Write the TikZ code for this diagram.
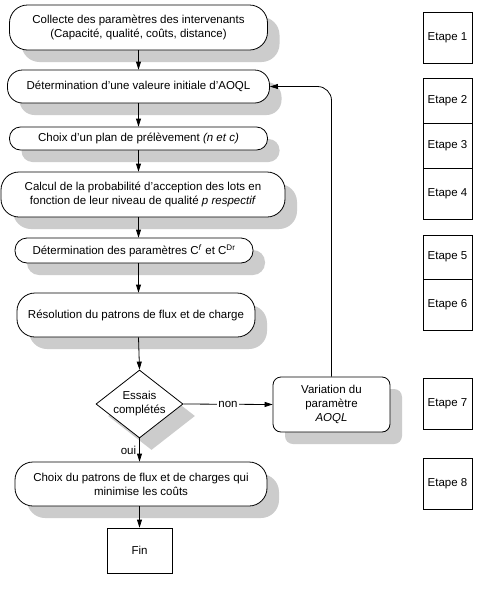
\documentclass[tikz,border=0pt]{standalone}
\usepackage{fontspec}
\setmainfont{Liberation Sans}
\usetikzlibrary{shapes.geometric,shadows,arrows.meta}
\begin{document}
\begin{tikzpicture}[x=1pt,y=-1pt,
  every node/.style={font=\fontsize{11.5}{14}\selectfont},
  shd/.style={drop shadow={shadow xshift=12pt,shadow yshift=-12pt,fill=black!20,opacity=1}},
  proc/.style={draw,line width=0.8pt,rectangle,align=center,inner sep=0pt,fill=white,shd},
  dec/.style={draw,diamond,line width=0.8pt,fill=white,shd,inner sep=0pt,minimum width=87pt,minimum height=68pt},
  etap/.style={draw,line width=0.7pt,minimum width=49pt,inner sep=0pt},
  arr/.style={line width=0.8pt,-{Triangle[length=8pt,width=5pt]}}
]
\fill[white] (0,0) rectangle (484,595);
\useasboundingbox (0,0) rectangle (484,595);
\coordinate (colx) at (138.5,0);

\node[proc,rounded corners=18pt,minimum width=258pt,minimum height=45pt] (b1) at (138.5,27.5) {Collecte des paramètres des intervenants\\(Capacité, qualité, coûts, distance)};
\node[proc,rounded corners=15pt,minimum width=262pt,minimum height=33pt] (b2) at (138.5,86.5) {Détermination d'une valeure initiale d'AOQL};
\node[proc,rounded corners=11pt,minimum width=258pt,minimum height=23pt] (b3) at (138.5,138.5) {Choix d'un plan de prélèvement \textit{(n et c)}};
\node[proc,rounded corners=18pt,minimum width=284pt,minimum height=45pt] (b4) at (143,194.5) {Calcul de la probabilité d'acception des lots en\\fonction de leur niveau de qualité \textit{p respectif}};
\node[proc,rounded corners=12pt,minimum width=238pt,minimum height=25pt] (b5) at (134,250.5) {Détermination des paramètres C\textsuperscript{\textit{f}} et C\textsuperscript{Dr}};
\node[proc,rounded corners=18pt,minimum width=238pt,minimum height=44pt] (b6) at (136,315) {Résolution du patrons de flux et de charge};
\node[dec] (d) at (139.5,404) {};
\node[align=center] (dt) at (d.center) {Essais\\complétés};
\node[proc,rounded corners=8pt,minimum width=117pt,minimum height=55pt] (v) at (331.5,404.5) {Variation du\\paramètre\\\textit{AOQL}};
\node[proc,rounded corners=18pt,minimum width=252pt,minimum height=44pt] (b7) at (141,484) {Choix du patrons de flux et de charges qui\\minimise les coûts};
\node[draw,line width=0.8pt,minimum width=65pt,minimum height=45pt,inner sep=0pt] (fin) at (139.5,550.5) {Fin};

\draw[arr] (b1.south -| colx) -- (b2.north -| colx);
\draw[arr] (b2.south -| colx) -- (b3.north -| colx);
\draw[arr] (b3.south -| colx) -- (b4.north -| colx);
\draw[arr] (b4.south -| colx) -- (b5.north -| colx);
\draw[arr] (b5.south -| colx) -- (b6.north -| colx);
\draw[arr] (b6.south -| colx) -- (d.north);
\draw[arr] (d.east) -- node[fill=white,inner sep=1.5pt] {non} (v.west);
\draw[arr] (d.south) -- node[left,inner sep=3pt] {oui} (b7.north -| d.south);
\draw[arr] (b7.south -| fin.north) -- (fin.north);
\draw[arr,rounded corners=14pt] (v.north) -- (v.north |- b2.east) -- (b2.east);

\node[etap,minimum height=51pt] (e1) at (447.5,37.5) {Etape 1};
\node[etap,minimum height=45pt] (e2) at (447.5,100.5) {Etape 2};
\node[etap,minimum height=45pt] (e3) at (447.5,145.5) {Etape 3};
\node[etap,minimum height=51pt] (e4) at (447.5,193.5) {Etape 4};
\node[etap,minimum height=44pt] (e5) at (447.5,257) {Etape 5};
\node[etap,minimum height=51pt] (e6) at (447.5,304.5) {Etape 6};
\node[etap,minimum height=51pt] (e7) at (447.5,403.5) {Etape 7};
\node[etap,minimum height=51pt] (e8) at (447.5,483.5) {Etape 8};
\end{tikzpicture}
\end{document}
